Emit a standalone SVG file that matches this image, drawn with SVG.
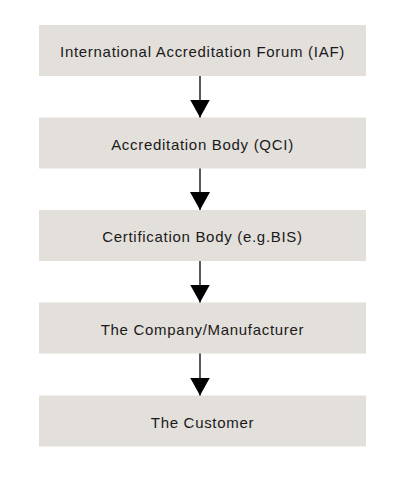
<svg xmlns="http://www.w3.org/2000/svg" width="400" height="479" viewBox="0 0 400 479">
<style>
.box{fill:#e3dfda}
.lbl{font-family:"Liberation Sans",Arial,sans-serif;font-size:15px;fill:#1a1a1a;text-anchor:middle;letter-spacing:0.7px}
.conn{stroke:#000;stroke-width:1.3;fill:none}
</style>
<defs>
<marker id="ah" markerWidth="18" markerHeight="20" refX="18" refY="10" orient="auto" markerUnits="userSpaceOnUse" viewBox="0 0 18 20">
<path d="M0,0 L18,10 L0,20 Z" fill="#000"/>
</marker>
</defs>
<rect width="400" height="479" fill="#fff"/>
<g id="n1"><rect class="box" x="39" y="25" width="327" height="51"/><text class="lbl" x="202.5" y="57">International Accreditation Forum (IAF)</text></g>
<g id="n2"><rect class="box" x="39" y="117.5" width="327" height="51"/><text class="lbl" x="202.5" y="149.5">Accreditation Body (QCI)</text></g>
<g id="n3"><rect class="box" x="39" y="210" width="327" height="51"/><text class="lbl" x="202.5" y="242">Certification Body (e.g.BIS)</text></g>
<g id="n4"><rect class="box" x="39" y="302.5" width="327" height="51"/><text class="lbl" x="202.5" y="334.5">The Company/Manufacturer</text></g>
<g id="n5"><rect class="box" x="39" y="395.5" width="327" height="51"/><text class="lbl" x="202.5" y="427.5">The Customer</text></g>
<g id="connectors">
<line class="conn" x1="200" y1="76" x2="200" y2="117.5" marker-end="url(#ah)"/>
<line class="conn" x1="200" y1="168.5" x2="200" y2="210" marker-end="url(#ah)"/>
<line class="conn" x1="200" y1="261" x2="200" y2="302.5" marker-end="url(#ah)"/>
<line class="conn" x1="200" y1="353.5" x2="200" y2="395.5" marker-end="url(#ah)"/>
</g>
</svg>
